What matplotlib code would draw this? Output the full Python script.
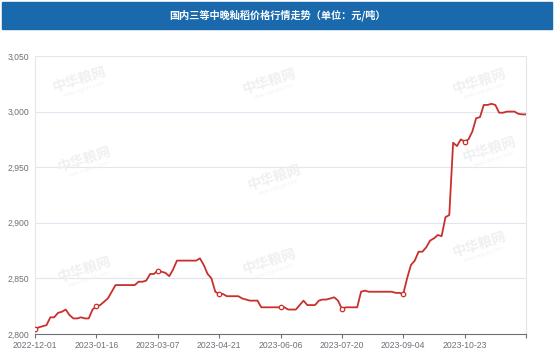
import matplotlib.pyplot as plt
from matplotlib.patches import Rectangle

title = '国内三等中晚籼稻价格行情走势（单位：元/吨）'

tick_labels = ['2022-12-01', '2023-01-16', '2023-03-07', '2023-04-21',
               '2023-06-06', '2023-07-20', '2023-09-04', '2023-10-23']

# price, one value per step on the category axis (16 steps per label)
prices = [
    2804.5, 2806, 2807, 2808, 2815, 2815, 2819, 2820, 2822, 2817, 2814, 2814, 2815, 2814, 2814, 2822,
    2825, 2826, 2829, 2832, 2838, 2844, 2844, 2844, 2844, 2844, 2844, 2847, 2847, 2848, 2854, 2854,
    2857, 2856, 2855, 2852, 2858, 2866, 2866, 2866, 2866, 2866, 2866, 2868, 2862, 2854, 2850, 2838,
    2836, 2836, 2834, 2834, 2834, 2834, 2832, 2831, 2830, 2830, 2830, 2824, 2824, 2824, 2824, 2824,
    2824, 2824, 2822, 2822, 2822, 2826, 2830, 2826, 2826, 2826, 2830, 2831, 2831, 2832, 2833, 2830,
    2822.5, 2824, 2824, 2824, 2824, 2838, 2839, 2838, 2838, 2838, 2838, 2838, 2838, 2838, 2837, 2837,
    2836, 2850, 2862, 2866, 2874, 2874, 2878, 2884, 2886, 2889, 2888, 2905, 2907, 2972, 2969, 2975,
    2973, 2975, 2982, 2994, 2995, 3006, 3006, 3007, 3006, 2999, 2999, 3000, 3000, 3000, 2998, 2997.5,
    2997.5,
]
step = 16
y_ticks = [2800, 2850, 2900, 2950, 3000, 3050]

plt.rcParams['font.family'] = ['Noto Sans CJK SC', 'DejaVu Sans']

W, H = 554, 355
fig = plt.figure(figsize=(W / 100, H / 100), dpi=100)

# title bar
fig.patches.append(Rectangle((2 / W, 1 - 29 / H), 550 / W, 27 / H,
                             transform=fig.transFigure, color='#1a69ad', zorder=0))
fig.text(0.5, 1 - 15.5 / H, title, color='white', fontsize=7.3, fontweight='bold',
         ha='center', va='center')

# faint watermarks
wm_pos = [(80, 80), (270, 82), (480, 82), (85, 160), (275, 178), (490, 150),
          (85, 270), (270, 262), (480, 245)]
for px, py in wm_pos:
    fig.text(px / W, 1 - py / H, '中华粮网', color='#f0f0f0', fontsize=10, fontweight='bold',
             rotation=18, ha='center', va='center', zorder=0.5)
    fig.text((px + 4) / W, 1 - (py + 9) / H, 'www.cngrain.com', color='#f2f2f2', fontsize=3.5,
             rotation=18, ha='center', va='center', zorder=0.5)

ax = fig.add_axes([35 / W, 21 / H, 491 / W, 278 / H])
ax.patch.set_alpha(0)
x = list(range(len(prices)))
ax.plot(x, prices, color='#c9302c', lw=1.3, zorder=3)
mk = list(range(0, len(tick_labels) * step, step))
ax.plot(mk, [prices[i] for i in mk], 'o', ms=3.2, mfc='white', mec='#c9302c', mew=0.9, zorder=4)

ax.set_xlim(0, len(prices) - 1)
ax.set_ylim(2800, 3050)
ax.set_yticks(y_ticks)
ax.set_yticklabels([f'{v:,}' for v in y_ticks], fontsize=6.2, color='#6e7079', family='Liberation Sans')
ax.set_xticks(list(range(0, len(prices), step)))
ax.set_xticklabels(tick_labels + [''], fontsize=6.2, color='#6e7079', family='Liberation Sans')
ax.tick_params(axis='y', length=0, pad=4)
ax.tick_params(axis='x', length=3, color='#6e7079', width=0.8, pad=2)
ax.grid(axis='y', color='#e0e6f1', lw=0.8)
ax.spines['top'].set_visible(False)
ax.spines['left'].set_color('#e6e6e6')
ax.spines['right'].set_color('#e6e6e6')
ax.spines['bottom'].set_color('#6e7079')
ax.spines['bottom'].set_linewidth(0.8)

fig.savefig('out.png', dpi=100)
